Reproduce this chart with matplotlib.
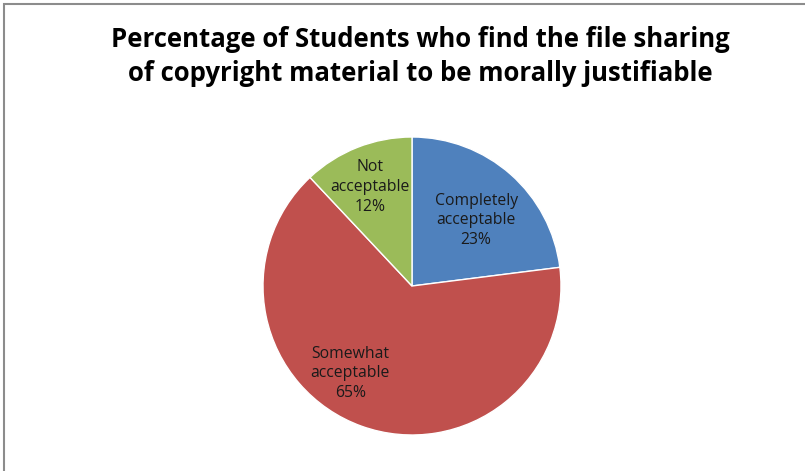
import matplotlib.pyplot as plt
from matplotlib.patches import Rectangle

# Survey answers
categories = ["Completely\nacceptable", "Somewhat\nacceptable", "Not\nacceptable"]
shares = [23, 65, 12]
colors = ["#4F81BD", "#C0504D", "#9BBB59"]

title = "Percentage of Students who find the file sharing\nof copyright material to be morally justifiable"

fig = plt.figure(figsize=(8.05, 4.71), dpi=100)

# Chart-area border (top and left visible, runs off the image to the right/bottom)
fig.patches.append(Rectangle((4 / 805, -0.1), 1.2, (467 / 471) + 0.1,
                             transform=fig.transFigure, fill=False,
                             edgecolor="#8c8c8c", linewidth=1.5))

fig.text(0.5222, 0.945, title, ha="center", va="top", fontsize=18.5,
         fontweight="bold", family="Open Sans", linespacing=1.32, color="black")

# Pie axes sized so the radius is ~149 px around (412, 286)
cx, cy, r = 412, 286, 149
ax = fig.add_axes([(cx - r) / 805, (471 - cy - r) / 471, 2 * r / 805, 2 * r / 471])
wedges, texts, autotexts = ax.pie(
    shares, colors=colors, startangle=90, counterclock=False,
    autopct=lambda p: "", pctdistance=0.68,
    wedgeprops=dict(edgecolor="white", linewidth=1.0))
ax.set_xlim(-1, 1)
ax.set_ylim(-1, 1)
ax.set_aspect("equal")

# Label positions inside each slice (fraction of radius)
label_pos = [(0.43, 0.44), (-0.415, -0.585), (-0.28, 0.665)]
for t, cat, val, pos in zip(autotexts, categories, shares, label_pos):
    t.set_text(f"{cat}\n{val}%")
    t.set_position(pos)
    t.set_ha("center")
    t.set_va("center")
    t.set_fontsize(11.3)
    t.set_family("Open Sans")
    t.set_color("#1a1a1a")
    t.set_linespacing(1.3)

fig.savefig("out.png", dpi=100)
